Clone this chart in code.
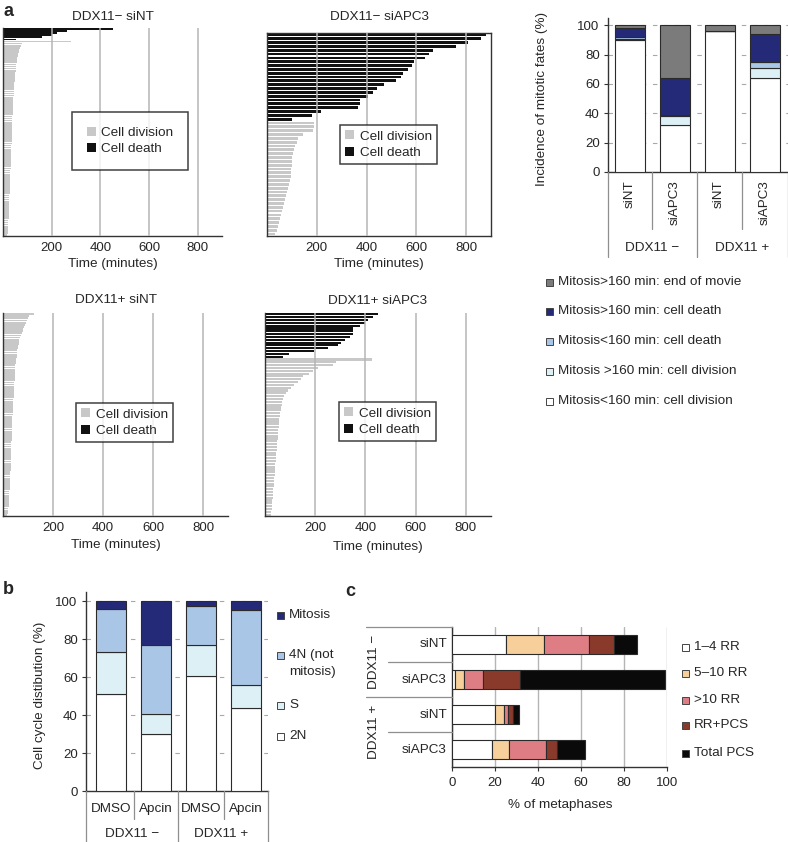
# Figure: mitotic timing (a), cell cycle distribution (b), metaphase spreads (c)
import numpy as np, pandas as pd, matplotlib
matplotlib.use('Agg')
import matplotlib.pyplot as plt, seaborn as sns
from matplotlib.patches import Patch, Rectangle
from matplotlib.lines import Line2D

sns.set_style('white')
plt.rcParams['font.family'] = ['Liberation Sans', 'DejaVu Sans']

# ---- data: panel a, time in mitosis per cell (minutes), top to bottom ----
ntm_death = [452, 264, 223, 203, 162, 53]
ntm_division = [278, 80, 74, 70, 66, 64, 62, 60, 58, 57, 56, 55, 54, 53, 52, 51, 50, 49, 48, 48,
                47, 46, 46, 45, 45, 44, 44, 43, 43, 42, 42, 41, 41, 40, 40, 40, 39, 39, 38, 38,
                38, 37, 37, 37, 36, 36, 36, 35, 35, 35, 34, 34, 34, 33, 33, 33, 32, 32, 32, 31,
                31, 31, 30, 30, 30, 29, 29, 29, 28, 28, 28, 27, 27, 27, 26, 26, 26, 25, 25, 25,
                24, 24, 24, 23, 23, 23, 22, 22, 21, 21, 20, 20, 19, 18]
nta_death = [881, 858, 807, 761, 666, 650, 635, 590, 582, 568, 545, 537, 520, 470, 440, 427,
             405, 372, 372, 365, 216, 182, 101]
nta_division = [189, 189, 185, 145, 124, 122, 112, 108, 104, 101, 101, 99, 97, 95, 95, 91, 88,
                85, 81, 77, 72, 68, 65, 61, 58, 54, 50, 45, 40, 34]
ptm_death = []
ptm_division = [125, 105, 99, 95, 92, 88, 85, 82, 79, 76, 72, 69, 66, 64, 62, 60, 58, 57, 56, 55,
                54, 53, 52, 51, 50, 50, 49, 49, 48, 48, 47, 47, 46, 46, 45, 45, 44, 44, 43, 43,
                42, 42, 41, 41, 40, 40, 39, 39, 38, 38, 38, 37, 37, 37, 36, 36, 36, 35, 35, 35,
                34, 34, 34, 33, 33, 33, 32, 32, 32, 31, 31, 30, 30, 30, 29, 29, 28, 28, 28, 27,
                27, 26, 26, 25, 25, 24, 24, 23, 23, 22, 22, 21, 20, 19, 18]
pta_death = [451, 431, 411, 397, 377, 351, 351, 351, 337, 317, 304, 291, 251, 197, 97, 71]
pta_division = [427, 284, 271, 211, 191, 177, 151, 144, 131, 117, 104, 91, 84, 77, 71, 68, 66,
                64, 62, 60, 58, 57, 56, 55, 54, 53, 52, 51, 50, 49, 48, 47, 46, 45, 44, 43, 42,
                41, 40, 40, 39, 38, 37, 36, 35, 34, 33, 32, 31, 30, 29, 28, 27, 26, 25, 24]
time_ticks = [200, 400, 600, 800]

# ---- data: panel a right, mitotic fates (%) ----
fate_cats = ['siNT', 'siAPC3', 'siNT', 'siAPC3']
div_lt160 = [90, 32, 96, 64]
div_gt160 = [1, 6, 0, 7]
death_lt160 = [1, 1, 0, 4]
death_gt160 = [6, 25, 0, 19]
end_movie = [2, 36, 4, 6]

# ---- data: panel b, cell cycle distribution (%) ----
cc_cats = ['DMSO', 'Apcin', 'DMSO', 'Apcin']
two_n = [51, 30, 60.5, 44]
s_phase = [22.5, 10.5, 16.5, 12]
four_n = [22.5, 36.5, 20.5, 39.5]
mitosis = [4, 23, 2.5, 4.5]

# ---- data: panel c, % of metaphases ----
meta_cats = ['siNT', 'siAPC3', 'siNT', 'siAPC3']
rr_1_4 = [25, 1.2, 20, 18.6]
rr_5_10 = [18, 4.2, 4, 7.9]
rr_gt10 = [20.6, 9, 2.2, 17.1]
rr_pcs = [11.7, 17.1, 2.2, 5.2]
total_pcs = [10.9, 67.7, 2.8, 13.2]

W, H = 788, 842
fig = plt.figure(figsize=(W / 100, H / 100), dpi=100)
FS = 9.7


def px_axes(x0, y0, x1, y1):
    return fig.add_axes([x0 / W, 1 - y1 / H, (x1 - x0) / W, (y1 - y0) / H])


def ftext(x, y, s, **kw):
    kw.setdefault('fontsize', FS)
    kw.setdefault('ha', 'center')
    kw.setdefault('va', 'center')
    fig.text(x / W, 1 - y / H, s, **kw)


def fline(x0, y0, x1, y1, color='#8f8f8f', lw=0.9):
    fig.add_artist(Line2D([x0 / W, x1 / W], [1 - y0 / H, 1 - y1 / H], color=color, lw=lw,
                          transform=fig.transFigure))


def swatch(x, y, color, label, size=7):
    fig.add_artist(Rectangle((x / W, 1 - (y + size / 2) / H), size / W, size / H, facecolor=color,
                             edgecolor='#444444', lw=0.7, transform=fig.transFigure))
    ftext(x + size + 5, y, label, ha='left')


def timing(rect, title, title_y, death, division, xlab_y, frame, leg_xy, leg_pad, bw):
    ax = px_axes(*rect)
    vals = death + division
    df = pd.DataFrame({'cell': [str(i) for i in range(len(vals))], 'minutes': vals,
                       'fate': ['Cell death'] * len(death) + ['Cell division'] * len(division)})
    sns.barplot(data=df, x='minutes', y='cell', hue='fate', dodge=False, orient='h',
                palette={'Cell death': '#111111', 'Cell division': '#c8c8c8'}, saturation=1,
                width=bw, linewidth=0, errorbar=None, legend=False, ax=ax)
    ax.set_xlim(0, 900)
    ax.set_xticks(time_ticks)
    ax.set_yticks([])
    ax.set_xlabel(''); ax.set_ylabel('')
    ax.xaxis.grid(True, color='#b5b5b5', lw=1.1)
    ax.set_axisbelow(False)
    ax.tick_params(axis='x', length=0, labelsize=9.5, pad=4)
    for s in ['top', 'right']:
        ax.spines[s].set_visible(frame)
    for s in ax.spines.values():
        s.set_color('#333333'); s.set_linewidth(1.0)
    xc = (rect[0] + rect[2]) / 2
    ftext(xc, title_y, title)
    ftext(xc, xlab_y, 'Time (minutes)')
    handles = [Patch(fc='#c8c8c8', ec='none', label='Cell division'),
               Patch(fc='#111111', ec='none', label='Cell death')]
    leg = ax.legend(handles=handles, loc='upper left', bbox_to_anchor=(leg_xy[0] / W, 1 - leg_xy[1] / H),
                    bbox_transform=fig.transFigure, fontsize=FS, frameon=True, fancybox=False,
                    handlelength=0.65, handleheight=0.65, handletextpad=0.4, labelspacing=0.3,
                    borderpad=leg_pad, borderaxespad=0)
    leg.get_frame().set_edgecolor('#111111'); leg.get_frame().set_linewidth(1.1)
    return ax


timing((3, 28, 222, 236), 'DDX11\u2212 siNT', 17, ntm_death, ntm_division, 264, False, (72, 112), 1.1, 0.85)
timing((267, 33, 491, 236), 'DDX11\u2212 siAPC3', 17, nta_death, nta_division, 264, True, (340, 125), 0.4, 0.72)
timing((3, 313, 228, 516), 'DDX11+ siNT', 300, ptm_death, ptm_division, 545, False, (76, 403), 0.4, 0.85)
timing((265, 313, 491, 516), 'DDX11+ siAPC3', 301, pta_death, pta_division, 547, False, (339, 402), 0.4, 0.75)


def stacked_v(rect, xlim, layers, colors, ylab, ylab_x):
    ax = px_axes(*rect)
    x = np.arange(len(layers[0]))
    bottom = np.zeros(len(x))
    for vals, c in zip(layers, colors):
        ax.bar(x, vals, bottom=bottom, width=0.67, color=c, edgecolor='#2a2a2a', linewidth=0.8, zorder=3)
        bottom += np.array(vals)
    ax.set_xlim(*xlim)
    ax.set_ylim(0, 105)
    ax.set_yticks(range(0, 101, 20))
    ax.set_xticks([])
    ax.yaxis.grid(True, ls=(0, (4, 6)), color='#a8a8a8', lw=0.8)
    ax.set_axisbelow(True)
    ax.tick_params(axis='y', left=True, length=3, width=0.8, labelsize=9.5, pad=3, color='#333333')
    for s in ['top', 'right']:
        ax.spines[s].set_visible(False)
    for s in ['left', 'bottom']:
        ax.spines[s].set_color('#333333'); ax.spines[s].set_linewidth(1.0)
    ftext(ylab_x, (rect[1] + rect[3]) / 2 + 4, ylab, rotation=90)
    return ax


# panel a right: fates
stacked_v((608, 18, 788, 172), (-0.49, 3.52),
          [div_lt160, div_gt160, death_lt160, death_gt160, end_movie],
          ['#ffffff', '#dcf0f5', '#a9c6e6', '#242a78', '#7b7b7b'],
          'Incidence of mitotic fates (%)', 542)
for xc, lab in zip([630, 674.5, 719, 764.5], fate_cats):
    ftext(xc, 180, lab, rotation=90, va='top')
fline(608, 172, 608, 257); fline(652, 172, 652, 229); fline(697, 172, 697, 257)
fline(742, 172, 742, 229); fline(787.5, 172, 787.5, 257)
ftext(652, 248, 'DDX11 \u2212'); ftext(742, 248, 'DDX11 +')
for yy, c, lab in zip([282, 311, 341, 371, 401],
                      ['#7b7b7b', '#242a78', '#a9c6e6', '#dcf0f5', '#ffffff'],
                      ['Mitosis>160 min: end of movie', 'Mitosis>160 min: cell death',
                       'Mitosis<160 min: cell death', 'Mitosis >160 min: cell division',
                       'Mitosis<160 min: cell division']):
    swatch(546, yy, c, lab)

# panel b: cell cycle
stacked_v((86, 592, 268, 791), (-0.555, 3.5),
          [two_n, s_phase, four_n, mitosis],
          ['#ffffff', '#dcf0f5', '#a9c6e6', '#242a78'],
          'Cell cycle distibution (%)', 40)
for xc, lab in zip([111, 156, 201, 246], cc_cats):
    ftext(xc, 809, lab)
fline(86, 791, 86, 842); fline(134, 791, 134, 819); fline(178, 791, 178, 842)
fline(224, 791, 224, 819); fline(268, 791, 268, 842)
ftext(132, 834, 'DDX11 \u2212'); ftext(221, 834, 'DDX11 +')
swatch(277, 615, '#242a78', 'Mitosis')
swatch(277, 655, '#a9c6e6', '4N (not')
ftext(289, 672, 'mitosis)', ha='left')
swatch(277, 705, '#dcf0f5', 'S')
swatch(277, 736, '#ffffff', '2N')

# panel c: metaphases
axc = px_axes(452, 627, 667, 767)
yc = np.arange(len(meta_cats))
left = np.zeros(len(yc))
for vals, c in zip([rr_1_4, rr_5_10, rr_gt10, rr_pcs, total_pcs],
                   ['#ffffff', '#f6cf9b', '#de7e84', '#8a3a2b', '#0a0a0a']):
    axc.barh(yc, vals, left=left, height=0.57, color=c, edgecolor='#2a2a2a', linewidth=0.8, zorder=3)
    left += np.array(vals)
axc.set_xlim(0, 100)
axc.set_ylim(3.5, -0.5)
axc.set_xticks(range(0, 101, 20))
axc.set_yticks([])
axc.xaxis.grid(True, color='#b5b5b5', lw=1.0)
axc.set_axisbelow(True)
axc.tick_params(axis='x', bottom=True, length=3, width=0.8, labelsize=9.5, pad=4, color='#333333')
for s in ['top', 'right']:
    axc.spines[s].set_visible(False)
for s in ['left', 'bottom']:
    axc.spines[s].set_color('#333333'); axc.spines[s].set_linewidth(1.0)
ftext(560, 805, '% of metaphases')
for yy, lab in zip([644, 680, 715, 750], meta_cats):
    ftext(447, yy, lab, ha='right')
fline(366, 627, 452, 627); fline(388, 662, 452, 662); fline(366, 697, 452, 697)
fline(388, 732, 452, 732)
ftext(374, 662, 'DDX11 \u2212', rotation=90); ftext(374, 732, 'DDX11 +', rotation=90)
for yy, c, lab in zip([647, 673, 700, 725, 753],
                      ['#ffffff', '#f6cf9b', '#de7e84', '#8a3a2b', '#0a0a0a'],
                      ['1\u20134 RR', '5\u201310 RR', '>10 RR', 'RR+PCS', 'Total PCS']):
    swatch(682, yy, c, lab)

# panel letters
ftext(3, 12, 'a', ha='left', fontsize=13, fontweight='bold')
ftext(3, 590, 'b', ha='left', fontsize=13, fontweight='bold')
ftext(345, 592, 'c', ha='left', fontsize=13, fontweight='bold')

fig.savefig('out.png', dpi=100)
